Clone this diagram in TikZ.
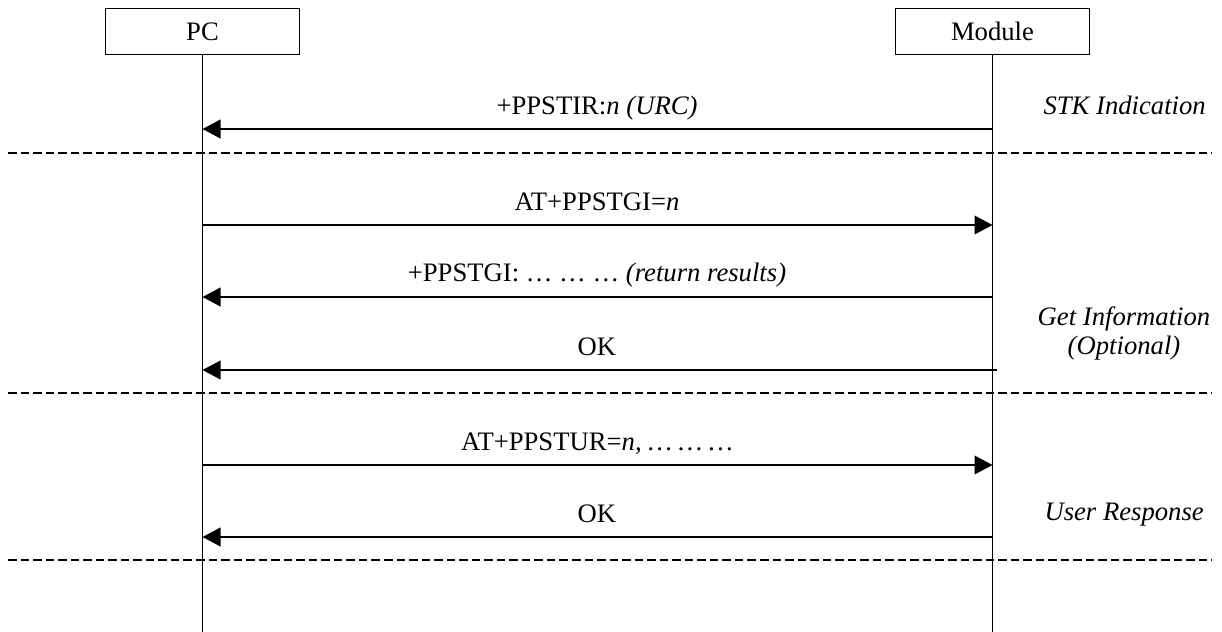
\documentclass[tikz,border=0pt]{standalone}
\usepackage{fontspec}
\setmainfont{Liberation Serif}
\usetikzlibrary{arrows.meta}
\begin{document}
\begin{tikzpicture}[x=0.75pt,y=-0.75pt,
  lbl/.style={font=\fontsize{20}{24}\selectfont, inner sep=0pt, anchor=base},
  box/.style={draw, line width=0.9pt, minimum width=146pt, minimum height=35pt, inner sep=0pt, font=\fontsize{20}{24}\selectfont},
  life/.style={line width=0.8pt},
  msg/.style={line width=1.3pt, -{Triangle[length=13.5pt,width=14pt]}},
  sep/.style={line width=1pt, dash pattern=on 6.4pt off 3pt},
  phase/.style={font=\fontsize{20}{24}\selectfont\itshape, inner sep=0pt, anchor=base east},
  phasec/.style={font=\fontsize{20}{24}\selectfont\itshape, inner sep=0pt, anchor=base}]
\useasboundingbox (0,0) rectangle (1222,632);
% participants
\node[box] (pc) at (202.5,31.5) {PC};
\node[box] (mod) at (992.5,31.5) {Module};
\coordinate (pcbot) at (202.5,632);
\coordinate (modbot) at (992.5,632);
\draw[life] (pc.south) -- (pcbot);
\draw[life] (mod.south) -- (modbot);
% messages
\coordinate (m1) at (992.5,129); \coordinate (p1) at (202.5,129);
\draw[msg] (m1) -- (p1);
\node[lbl] (l1) at (597,114) {+PPSTIR:\textit{n (URC)}};
\coordinate (p2) at (202.5,225); \coordinate (m2) at (992.5,225);
\draw[msg] (p2) -- (m2);
\node[lbl] (l2) at (597,210) {AT+PPSTGI=\textit{n}};
\coordinate (m3) at (992.5,297); \coordinate (p3) at (202.5,297);
\draw[msg] (m3) -- (p3);
\node[lbl] (l3) at (597,281) {+PPSTGI: … … … \textit{(return results)}};
\coordinate (m4) at (997,370); \coordinate (p4) at (202.5,370);
\draw[msg] (m4) -- (p4);
\node[lbl] (l4) at (597,355) {OK};
\coordinate (p5) at (202.5,465); \coordinate (m5) at (992.5,465);
\draw[msg] (p5) -- (m5);
\node[lbl] (l5) at (597,450) {AT+PPSTUR=\textit{n, … … …}};
\coordinate (m6) at (992.5,537); \coordinate (p6) at (202.5,537);
\draw[msg] (m6) -- (p6);
\node[lbl] (l6) at (597,522) {OK};
% separators
\coordinate (d1a) at (8,153); \coordinate (d1b) at (1212,153);
\draw[sep] (d1a) -- (d1b);
\coordinate (d2a) at (8,393); \coordinate (d2b) at (1212,393);
\draw[sep] (d2a) -- (d2b);
\coordinate (d3a) at (8,560); \coordinate (d3b) at (1212,560);
\draw[sep] (d3a) -- (d3b);
% phase labels
\node[phase] (stk) at (1206,114) {STK Indication};
\node[phasec] (gi1) at (1124,325) {Get Information};
\node[phasec] (gi2) at (1124,354) {(Optional)};
\node[phase] (ur) at (1204,520) {User Response};
\end{tikzpicture}
\end{document}
